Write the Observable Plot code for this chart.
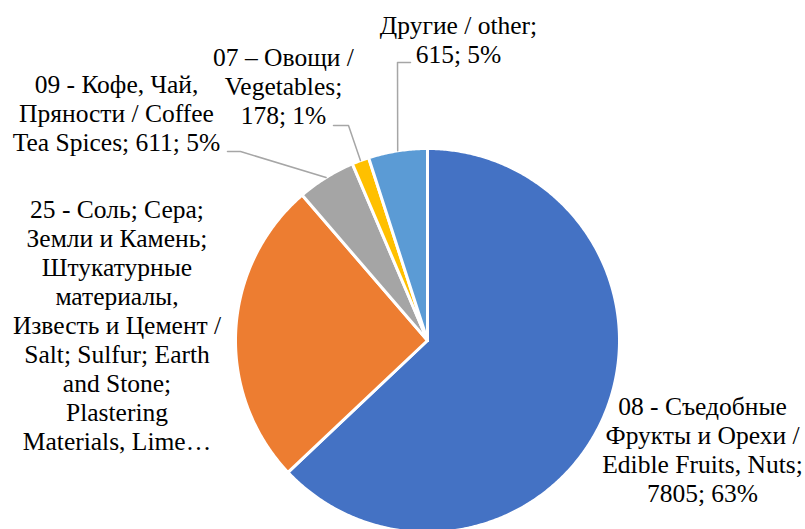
<!DOCTYPE html>
<html><head><meta charset="utf-8">
<script src="https://cdn.jsdelivr.net/npm/d3@7"></script>
<script src="https://cdn.jsdelivr.net/npm/@observablehq/plot@0.6"></script>
<style>body{margin:0;background:#fff}</style>
</head><body><div id="chart"></div>
<script>
// ---- data ----
const categories = [
  "08 - Съедобные Фрукты и Орехи / Edible Fruits, Nuts",
  "25 - Соль; Сера; Земли и Камень; Штукатурные материалы, Известь и Цемент / Salt; Sulfur; Earth and Stone; Plastering Materials, Lime and Cement",
  "09 - Кофе, Чай, Пряности / Coffee Tea Spices",
  "07 – Овощи / Vegetables",
  "Другие / other"
];
const values = [7805, 3190, 611, 178, 615];
const labels = [
  "08 - Съедобные\nФрукты и Орехи /\nEdible Fruits, Nuts;\n7805; 63%",
  "25 - Соль; Сера;\nЗемли и Камень;\nШтукатурные\nматериалы,\nИзвесть и Цемент /\nSalt; Sulfur; Earth\nand Stone;\nPlastering\nMaterials, Lime…",
  "09 - Кофе, Чай,\nПряности / Coffee\nTea Spices; 611; 5%",
  "07 – Овощи /\nVegetables;\n178; 1%",
  "Другие / other;\n615; 5%"
];
const colors = ["#4472C4", "#ED7D31", "#A5A5A5", "#FFC000", "#5B9BD5"];

// ---- layout ----
const W = 805, H = 529, cx = 427, cy = 340, R = 192;
const labelPos = [[702, 449], [116.5, 324.5], [116, 112], [283, 85], [458, 39]];
const leaderStart = [null, null, [[227, 151], [240, 151]], [[333, 125], [348, 125]], [[410, 62], [397, 62]]];

const total = d3.sum(values);
const pie = [];
let a0 = 0;
values.forEach((v, i) => {
  const a1 = a0 + v / total * 2 * Math.PI;
  pie.push({i, a0, a1});
  a0 = a1;
});

const slicePts = [];
pie.forEach(({i, a0, a1}) => {
  slicePts.push({i, cat: categories[i], x: 0, y: 0});
  const n = Math.max(2, Math.ceil((a1 - a0) / (Math.PI / 360)));
  for (let k = 0; k <= n; k++) {
    const a = a0 + (a1 - a0) * k / n;
    slicePts.push({i, cat: categories[i], x: R * Math.sin(a), y: -R * Math.cos(a)});
  }
  slicePts.push({i, cat: categories[i], x: 0, y: 0});
});

const leaderPts = [];
pie.forEach(({i, a0, a1}) => {
  if (!leaderStart[i]) return;
  leaderStart[i].forEach(([px, py]) => leaderPts.push({i, x: px - cx, y: py - cy}));
  const m = (a0 + a1) / 2;
  leaderPts.push({i, x: R * Math.sin(m), y: -R * Math.cos(m)});
});

const labelData = labels.map((t, i) => ({text: t, x: labelPos[i][0] - cx, y: labelPos[i][1] - cy}));

const chart = Plot.plot({
  width: W, height: H, margin: 0,
  x: {domain: [-cx, W - cx], range: [0, W], axis: null},
  y: {domain: [-cy, H - cy], range: [0, H], axis: null},
  color: {domain: categories, range: colors},
  style: {background: "#fff"},
  marks: [
    Plot.line(slicePts, {x: "x", y: "y", z: "i", fill: "cat", stroke: "#fff", strokeWidth: 3, strokeLinejoin: "round"}),
    Plot.line(leaderPts, {x: "x", y: "y", z: "i", stroke: "#A6A6A6", strokeWidth: 1.5}),
    Plot.text(labelData, {x: "x", y: "y", text: "text", fontSize: 25.5, fontFamily: "Liberation Serif", lineHeight: 1.137, textAnchor: "middle", lineAnchor: "middle", fill: "#000"})
  ]
});
document.getElementById("chart").appendChild(chart);
</script>
</body></html>
